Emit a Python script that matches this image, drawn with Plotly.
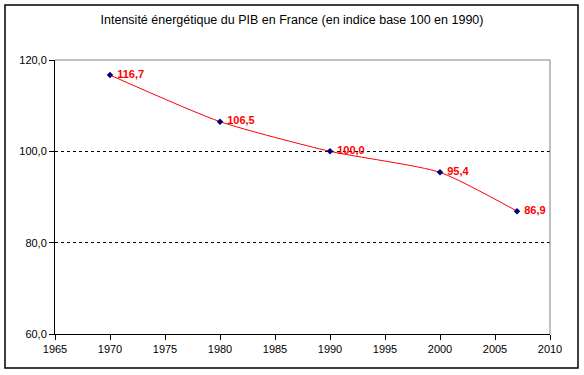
import plotly.graph_objects as go

years = [1970, 1980, 1990, 2000, 2007]
values = [116.7, 106.5, 100.0, 95.4, 86.9]
labels = ["116,7", "106,5", "100,0", "95,4", "86,9"]
title = "Intensité énergétique du PIB en France (en indice base 100 en 1990)"

fig = go.Figure()
fig.add_trace(go.Scatter(
    x=years, y=values, mode="lines+markers+text",
    line=dict(color="#ff0000", width=1, shape="spline", smoothing=0.6),
    marker=dict(symbol="diamond", size=5, color="#000080"),
    text=["\u00a0" + s for s in labels], textposition="middle right",
    textfont=dict(family="Liberation Sans, Arial", size=11, color="#ff0000", weight="bold"),
    cliponaxis=False, showlegend=False,
))

W, H = 584, 375
l, r, t, b = 55, 34, 60, 41
pw, ph = W - l - r, H - t - b

fig.update_layout(
    width=W, height=H,
    margin=dict(l=l, r=r, t=t, b=b, autoexpand=False),
    paper_bgcolor="white", plot_bgcolor="white",
    separators=", ",
    font=dict(family="Liberation Sans, Arial", size=11, color="black"),
    title=dict(text=title, x=0.5, xanchor="center", y=1 - 20 / H, yanchor="middle",
               font=dict(size=12.5)),
    xaxis=dict(range=[1965, 2010], dtick=5, tick0=1965, showgrid=False,
               ticks="outside", ticklen=5, tickcolor="black", showline=True,
               linecolor="black", linewidth=1, zeroline=False, mirror=False),
    yaxis=dict(range=[60, 120], dtick=20, tickformat=".1f", showgrid=True,
               gridcolor="black", griddash="3px,3px", gridwidth=1,
               ticks="outside", ticklen=5, tickcolor="black", showline=True,
               linecolor="black", linewidth=1, zeroline=False),
    shapes=[
        dict(type="line", xref="x", yref="paper", x0=1965, x1=2010, y0=1, y1=1,
             line=dict(color="gray", width=1)),
        dict(type="line", xref="paper", yref="paper", x0=1, x1=1, y0=0, y1=1,
             line=dict(color="gray", width=1)),
        dict(type="rect", xref="paper", yref="paper",
             x0=(5 - l) / pw, x1=(578 - l) / pw,
             y0=(H - b - 368) / ph, y1=(H - b - 5) / ph,
             line=dict(color="black", width=1.5), fillcolor="rgba(0,0,0,0)"),
    ],
)

fig.write_html("out.html", config={"displayModeBar": False},
               post_script="document.body.style.margin='0';document.body.style.overflow='hidden';")
